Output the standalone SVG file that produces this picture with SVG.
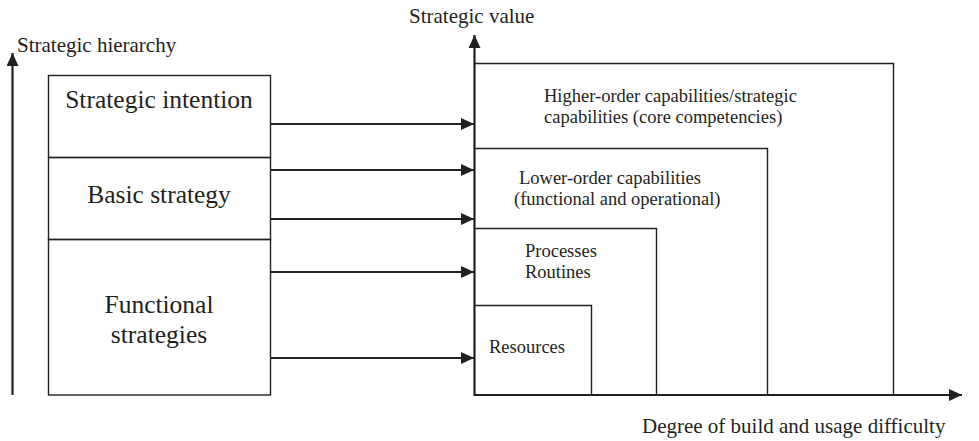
<svg xmlns="http://www.w3.org/2000/svg" width="979" height="441" viewBox="0 0 979 441">
<style>
text{font-family:"Liberation Serif","Times New Roman",serif;fill:#231f20}
.big{font-size:25.5px;text-anchor:middle}
.ax{font-size:21px}
.bx{font-size:18.5px}
.box{fill:none;stroke:#231f20;stroke-width:1.4}
.axis{fill:none;stroke:#231f20;stroke-width:2.2}
.conn{fill:none;stroke:#231f20;stroke-width:2.2}
.head{fill:#231f20}
</style>
<defs>
<marker id="ah" markerWidth="13" markerHeight="12" refX="13" refY="6" orient="auto" markerUnits="userSpaceOnUse">
<path d="M0,0 L13,6 L0,12 Z" class="head"/>
</marker>
</defs>
<g id="axes">
<line class="axis" x1="12.5" y1="395" x2="12.5" y2="53" marker-end="url(#ah)"/>
<line class="axis" x1="474.5" y1="395" x2="474.5" y2="35" marker-end="url(#ah)"/>
<line class="axis" x1="473.5" y1="395" x2="962" y2="395" marker-end="url(#ah)"/>
<text class="ax" x="17" y="52">Strategic hierarchy</text>
<text class="ax" x="409" y="23">Strategic value</text>
<text class="ax" x="642" y="433">Degree of build and usage difficulty</text>
</g>
<g id="strategic-intention">
<rect class="box" x="48.5" y="75.5" width="222" height="82"/>
<text class="big" x="159" y="108">Strategic intention</text>
</g>
<g id="basic-strategy">
<rect class="box" x="48.5" y="157.5" width="222" height="82"/>
<text class="big" x="159" y="203">Basic strategy</text>
</g>
<g id="functional-strategies">
<rect class="box" x="48.5" y="239.5" width="222" height="155.5"/>
<text class="big" x="159" y="313">Functional</text>
<text class="big" x="159" y="343">strategies</text>
</g>
<g id="higher-order">
<path class="box" d="M474.5,63.5 H893.5 V395"/>
<text class="bx" x="544" y="102">Higher-order capabilities/strategic</text>
<text class="bx" x="544" y="123">capabilities (core competencies)</text>
</g>
<g id="lower-order">
<path class="box" d="M474.5,148.5 H767.5 V395"/>
<text class="bx" x="519" y="184">Lower-order capabilities</text>
<text class="bx" x="514" y="205">(functional and operational)</text>
</g>
<g id="processes">
<path class="box" d="M474.5,228.5 H656.5 V395"/>
<text class="bx" x="525" y="257">Processes</text>
<text class="bx" x="525" y="278">Routines</text>
</g>
<g id="resources">
<path class="box" d="M474.5,305.5 H591.5 V395"/>
<text class="bx" x="489" y="353">Resources</text>
</g>
<g id="connectors">
<line class="conn" x1="271" y1="124" x2="474" y2="124" marker-end="url(#ah)"/>
<line class="conn" x1="271" y1="170" x2="474" y2="170" marker-end="url(#ah)"/>
<line class="conn" x1="271" y1="219" x2="474" y2="219" marker-end="url(#ah)"/>
<line class="conn" x1="271" y1="272" x2="474" y2="272" marker-end="url(#ah)"/>
<line class="conn" x1="271" y1="358" x2="474" y2="358" marker-end="url(#ah)"/>
</g>
</svg>
